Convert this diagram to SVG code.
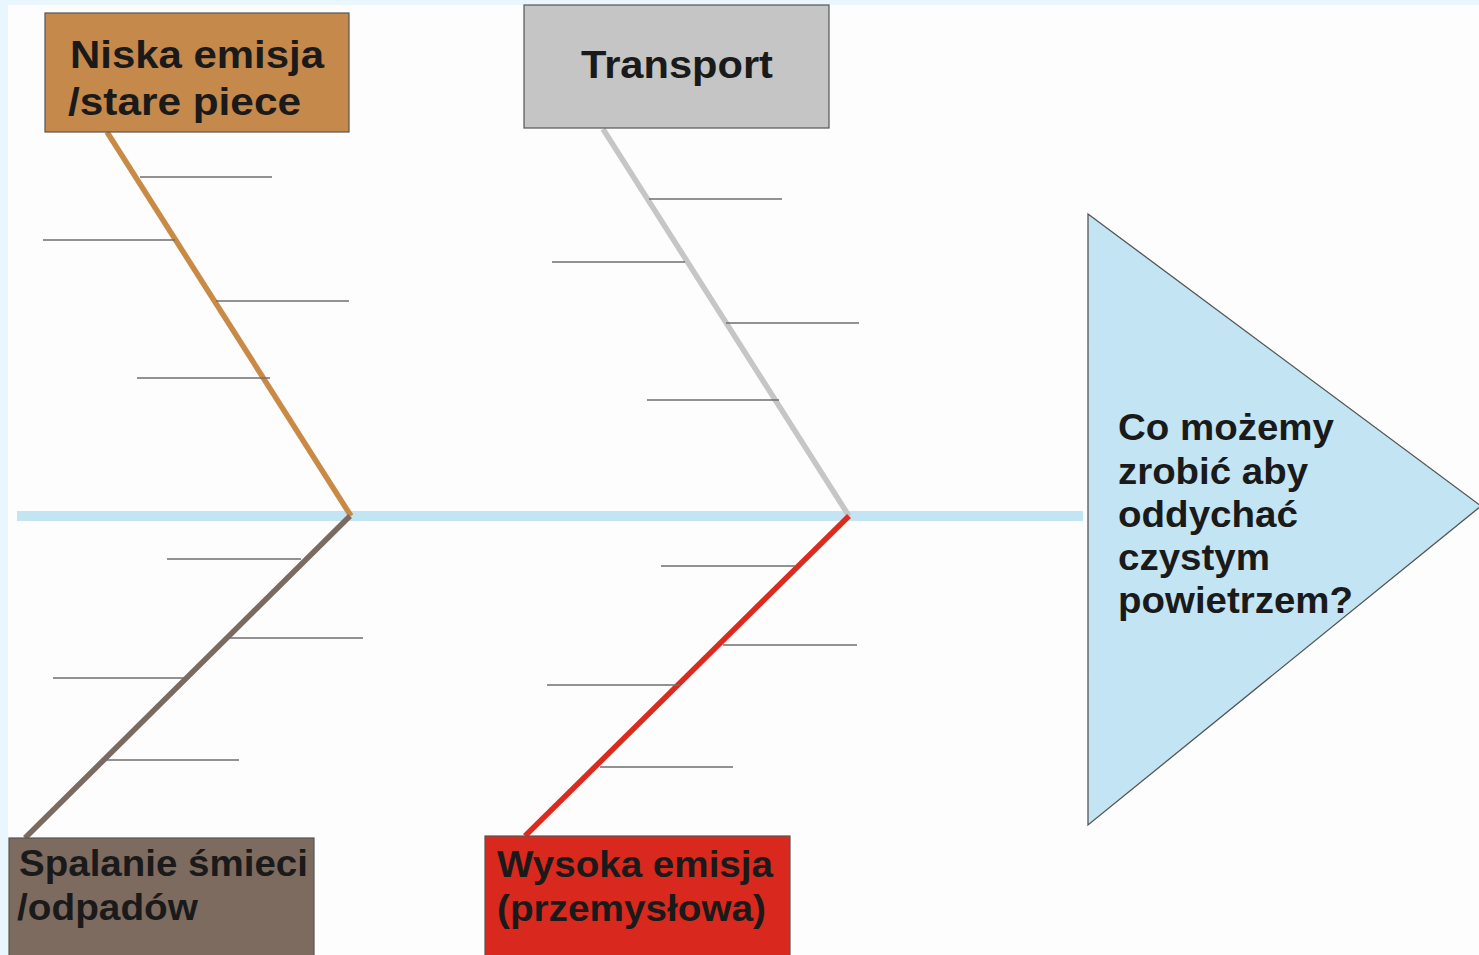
<svg xmlns="http://www.w3.org/2000/svg" width="1479" height="955" viewBox="0 0 1479 955">
<style>
.lbl{font-family:"Liberation Sans",Arial,sans-serif;font-weight:bold;fill:#1a1a1a}
.box{stroke:#555;stroke-width:1.2}
.tick{stroke:#6e6e6e;stroke-width:1.3}
.bone{stroke-width:5.5;fill:none}
</style>
<rect x="0" y="0" width="1479" height="955" fill="#eaf6fd"/>
<rect x="8" y="5" width="1471" height="950" fill="#fdfdfd"/>
<g id="connectors">
<line x1="17" y1="516" x2="1083" y2="516" stroke="#c2e4f3" stroke-width="10"/>
<line class="bone" x1="107" y1="132" x2="351" y2="516" stroke="#c98a45"/>
<line class="bone" x1="603" y1="129" x2="849" y2="516" stroke="#c5c6c5"/>
<line class="bone" x1="350" y1="516" x2="25" y2="838" stroke="#7a6a60"/>
<line class="bone" x1="849" y1="516" x2="525" y2="836" stroke="#db2a1e"/>
<line class="tick" x1="140" y1="177" x2="272" y2="177"/>
<line class="tick" x1="43" y1="240" x2="175" y2="240"/>
<line class="tick" x1="216" y1="301" x2="349" y2="301"/>
<line class="tick" x1="137" y1="378" x2="270" y2="378"/>
<line class="tick" x1="649" y1="199" x2="782" y2="199"/>
<line class="tick" x1="552" y1="262" x2="685" y2="262"/>
<line class="tick" x1="726" y1="323" x2="859" y2="323"/>
<line class="tick" x1="647" y1="400" x2="779" y2="400"/>
<line class="tick" x1="167" y1="559" x2="301" y2="559"/>
<line class="tick" x1="230" y1="638" x2="363" y2="638"/>
<line class="tick" x1="53" y1="678" x2="187" y2="678"/>
<line class="tick" x1="106" y1="760" x2="239" y2="760"/>
<line class="tick" x1="661" y1="566" x2="795" y2="566"/>
<line class="tick" x1="723" y1="645" x2="857" y2="645"/>
<line class="tick" x1="547" y1="685" x2="680" y2="685"/>
<line class="tick" x1="600" y1="767" x2="733" y2="767"/>
</g>
<g id="niska">
<rect class="box" x="45" y="13" width="304" height="119" fill="#c4894b"/>
<text class="lbl" x="70" y="68" font-size="39" textLength="254" lengthAdjust="spacingAndGlyphs">Niska emisja</text>
<text class="lbl" x="68" y="115" font-size="39" textLength="233" lengthAdjust="spacingAndGlyphs">/stare piece</text>
</g>
<g id="transport">
<rect class="box" x="524" y="5" width="305" height="123" fill="#c4c5c4"/>
<text class="lbl" x="581" y="78" font-size="39" textLength="192" lengthAdjust="spacingAndGlyphs">Transport</text>
</g>
<g id="spalanie">
<rect class="box" x="9" y="838" width="305" height="130" fill="#7d6b60"/>
<text class="lbl" x="19" y="876" font-size="37" textLength="289" lengthAdjust="spacingAndGlyphs">Spalanie śmieci</text>
<text class="lbl" x="17" y="920" font-size="37" textLength="181" lengthAdjust="spacingAndGlyphs">/odpadów</text>
</g>
<g id="wysoka">
<rect class="box" x="485" y="836" width="305" height="130" fill="#d9281d"/>
<text class="lbl" x="497" y="877" font-size="37" textLength="276" lengthAdjust="spacingAndGlyphs">Wysoka emisja</text>
<text class="lbl" x="497" y="921" font-size="37" textLength="269" lengthAdjust="spacingAndGlyphs">(przemysłowa)</text>
</g>
<g id="head">
<polygon points="1088,214 1481,506 1088,825" fill="#c2e4f3" stroke="#555" stroke-width="1.3"/>
<text class="lbl" font-size="37">
<tspan x="1118" y="440" textLength="216" lengthAdjust="spacingAndGlyphs">Co możemy</tspan>
<tspan x="1118" y="484" textLength="190" lengthAdjust="spacingAndGlyphs">zrobić aby</tspan>
<tspan x="1118" y="527" textLength="180" lengthAdjust="spacingAndGlyphs">oddychać</tspan>
<tspan x="1118" y="570" textLength="152" lengthAdjust="spacingAndGlyphs">czystym</tspan>
<tspan x="1118" y="613" textLength="235" lengthAdjust="spacingAndGlyphs">powietrzem?</tspan>
</text>
</g>
</svg>
